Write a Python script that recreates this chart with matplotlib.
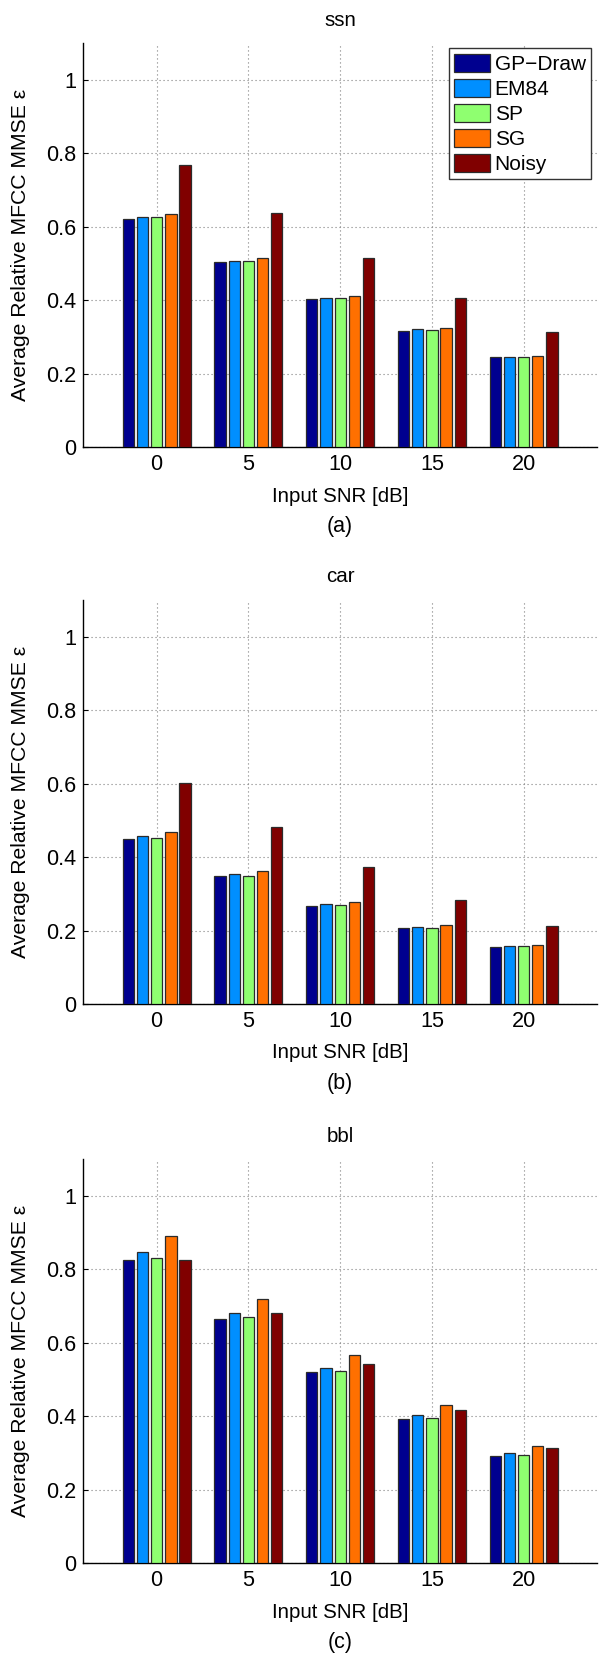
import matplotlib
matplotlib.use('Agg')
import matplotlib.pyplot as plt
import numpy as np

plt.rcParams['font.family'] = ['Liberation Sans', 'DejaVu Sans']

# ------------------------------------------------------------
# data
# ------------------------------------------------------------
SNR = [0, 5, 10, 15, 20]
METHODS = ['GP\u2212Draw', 'EM84', 'SP', 'SG', 'Noisy']
NOISES = ['ssn', 'car', 'bbl']
PANEL_TAGS = ['(a)', '(b)', '(c)']

# rows = methods (GP-Draw, EM84, SP, SG, Noisy), cols = SNR
SSN = [
    [0.621, 0.503, 0.404, 0.316, 0.244],
    [0.625, 0.507, 0.407, 0.320, 0.246],
    [0.625, 0.507, 0.406, 0.319, 0.246],
    [0.634, 0.514, 0.410, 0.323, 0.249],
    [0.768, 0.638, 0.515, 0.406, 0.312],
]
CAR = [
    [0.449, 0.348, 0.268, 0.206, 0.156],
    [0.458, 0.354, 0.272, 0.210, 0.159],
    [0.452, 0.349, 0.269, 0.207, 0.157],
    [0.467, 0.361, 0.278, 0.214, 0.161],
    [0.601, 0.481, 0.374, 0.283, 0.213],
]
BBL = [
    [0.825, 0.664, 0.519, 0.393, 0.291],
    [0.846, 0.681, 0.532, 0.404, 0.300],
    [0.831, 0.670, 0.522, 0.396, 0.293],
    [0.889, 0.720, 0.565, 0.430, 0.319],
    [0.824, 0.682, 0.543, 0.417, 0.314],
]

# jet-like colours as in the MATLAB original
COLORS = ['#00008F', '#008FFF', '#8FFF70', '#FF7000', '#800000']

# ------------------------------------------------------------
# layout (pixels of a 599x1655 canvas)
# ------------------------------------------------------------
W, H = 599, 1655
AX_LEFT, AX_RIGHT = 83.3, 597
AX_TOPS = [43, 600, 1159]
AX_H = 404

PITCH = 0.773      # distance between bars inside a group
BAR_W = 0.615


def plot_panel(ax, vals, name, tag, legend=False):
    x = np.array(SNR, dtype=float)
    for i, (row, col) in enumerate(zip(vals, COLORS)):
        ax.bar(x + (i - 2) * PITCH, row, width=BAR_W, color=col,
               edgecolor='#2b2b2b', linewidth=0.9, label=METHODS[i], zorder=3)

    ax.set_xlim(-4, 24)
    ax.set_ylim(0, 1.1)
    ax.set_xticks(SNR)
    ax.set_xticklabels([str(v) for v in SNR])
    ax.set_yticks([0, 0.2, 0.4, 0.6, 0.8, 1.0])
    ax.set_yticklabels(['0', '0.2', '0.4', '0.6', '0.8', '1'])
    ax.tick_params(direction='in', length=3.6, width=0.8, labelsize=15.6, pad=5)

    ax.grid(True, color='#808080', linestyle=(0, (1, 2.6)), linewidth=0.8)
    ax.set_axisbelow(True)

    for side in ('top', 'right'):
        ax.spines[side].set_visible(False)
    for side in ('left', 'bottom'):
        ax.spines[side].set_linewidth(1.0)

    ax.set_title(name, fontsize=14.8, y=1 + 23 / AX_H, pad=0, va='center')
    ax.set_xlabel('Input SNR [dB]', fontsize=14.8)
    ax.xaxis.set_label_coords(0.5, -49 / AX_H)
    ax.xaxis.label.set_va('center')
    ax.set_ylabel('Average Relative MFCC MMSE \u03b5', fontsize=15.2)
    ax.yaxis.set_label_coords(-62.3 / (AX_RIGHT - AX_LEFT), 0.5)
    ax.yaxis.label.set_va('center')
    ax.text(0.5, -79.5 / AX_H, tag, transform=ax.transAxes,
            ha='center', va='center', fontsize=15.5)

    if legend:
        leg = ax.legend(loc='upper right',
                        bbox_to_anchor=(591 / W, 1 - 48.3 / H),
                        bbox_transform=ax.figure.transFigure,
                        fontsize=15, fancybox=False, framealpha=1,
                        edgecolor='#333333', handlelength=1.75,
                        handleheight=1.0, handletextpad=0.2,
                        labelspacing=0.22, borderpad=0.25,
                        borderaxespad=0)
        leg.get_frame().set_linewidth(1.0)


fig = plt.figure(figsize=(W / 100, H / 100), dpi=100)
for k, (vals, name, tag) in enumerate(zip([SSN, CAR, BBL], NOISES, PANEL_TAGS)):
    top = AX_TOPS[k]
    rect = [AX_LEFT / W, 1 - (top + AX_H) / H,
            (AX_RIGHT - AX_LEFT) / W, AX_H / H]
    ax = fig.add_axes(rect)
    plot_panel(ax, vals, name, tag, legend=(k == 0))

fig.savefig('out.png', dpi=100, facecolor='white')
